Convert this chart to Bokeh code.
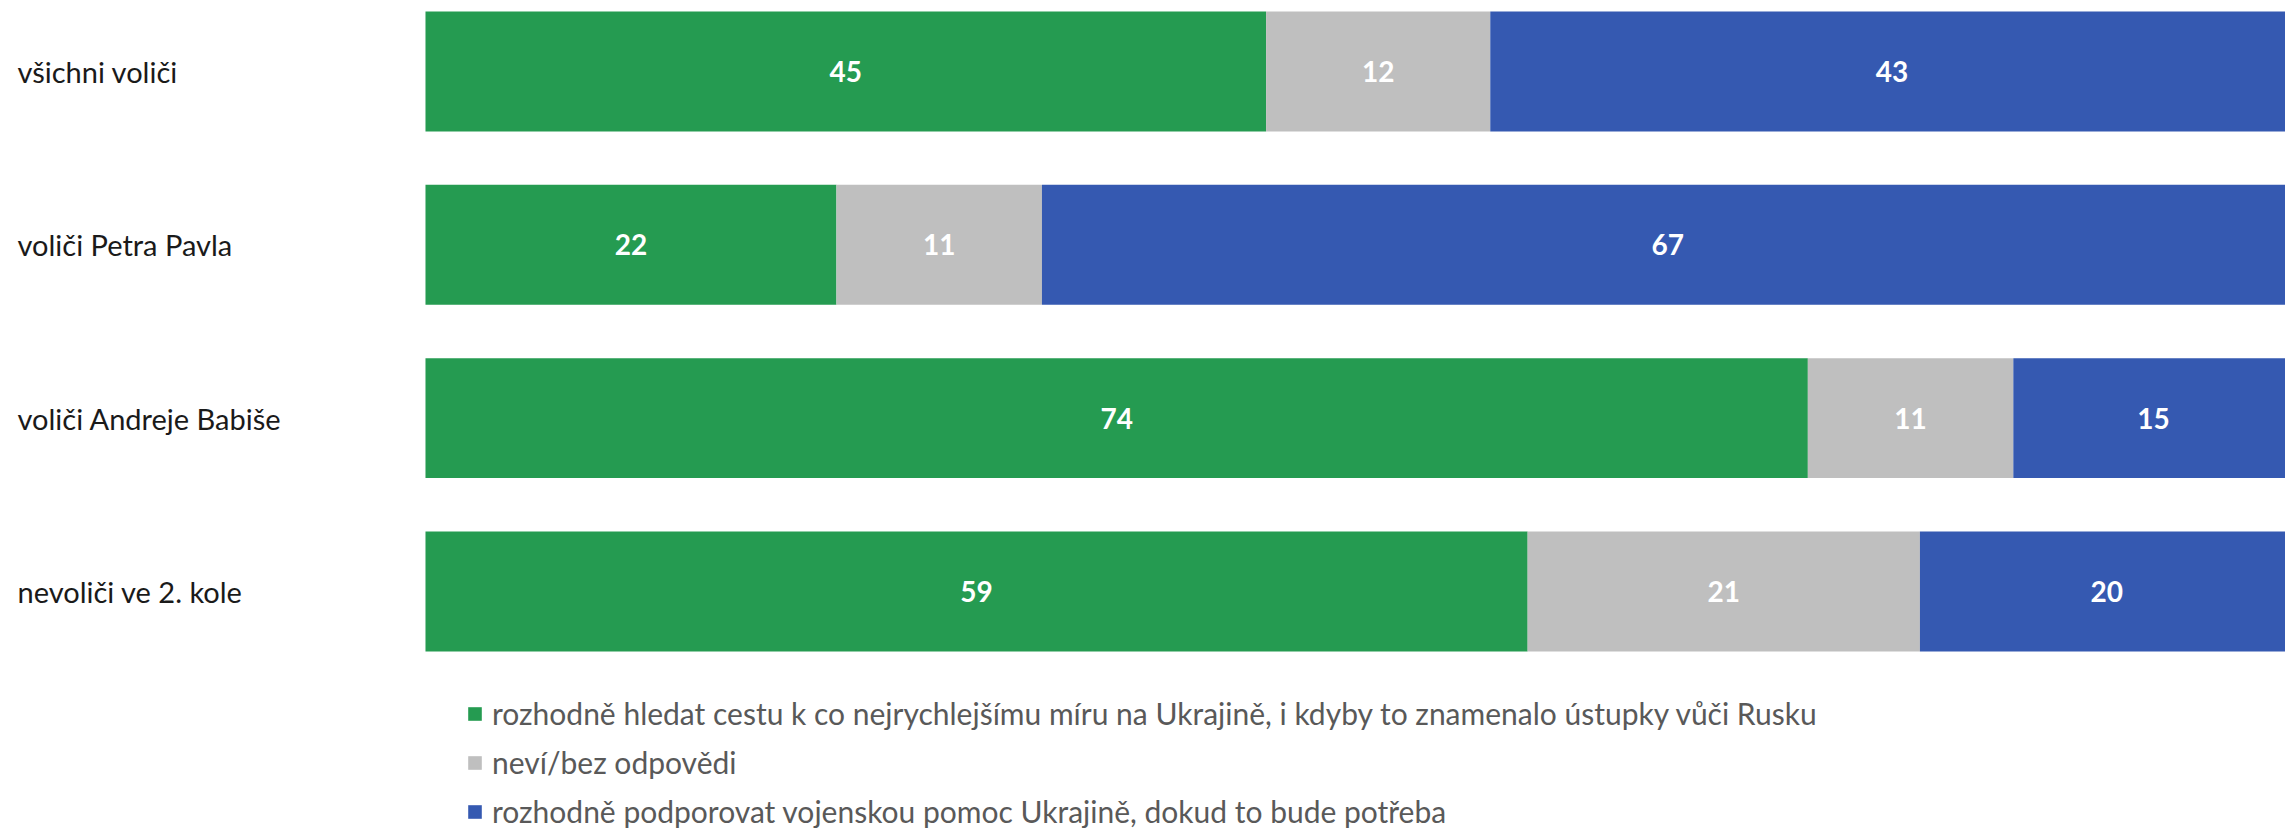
from bokeh.plotting import figure
from bokeh.models import ColumnDataSource, Range1d, Legend, LegendItem
from bokeh.core.properties import value
from bokeh.embed import file_html
from bokeh.resources import INLINE

categories = ["všichni voliči", "voliči Petra Pavla", "voliči Andreje Babiše", "nevoliči ve 2. kole"]
peace = [45, 22, 74, 59]
dont_know = [12, 11, 11, 21]
military = [43, 67, 15, 20]
series_names = [
    "rozhodně hledat cestu k co nejrychlejšímu míru na Ukrajině, i kdyby to znamenalo ústupky vůči Rusku",
    "neví/bez odpovědi",
    "rozhodně podporovat vojenskou pomoc Ukrajině, dokud to bude potřeba",
]
colors = ["#259B51", "#BFBFBF", "#3559B1"]

W, H = 2285, 832
pos = list(range(len(categories)))
src = ColumnDataSource(dict(y=pos, cat=categories, peace=peace, dk=dont_know, mil=military))

p = figure(width=W, height=H, output_backend="svg", toolbar_location=None,
           x_range=Range1d(-22.75, 99.57), y_range=Range1d(4.391, -0.4097),
           min_border=0, outline_line_color=None, background_fill_color="white",
           border_fill_color="white")
p.xaxis.visible = False
p.yaxis.visible = False
p.xgrid.visible = False
p.ygrid.visible = False

rs = p.hbar_stack(["peace", "dk", "mil"], y="y", height=0.692, color=colors, source=src, line_color=None)

# value labels
lx, ly, lt = [], [], []
for i in pos:
    start = 0
    for v in (peace[i], dont_know[i], military[i]):
        lx.append(start + v / 2)
        ly.append(i)
        lt.append(str(v))
        start += v
p.text(x=lx, y=ly, text=lt, text_align="center", text_baseline="middle",
       text_color="white", text_font=value("Lato"), text_font_style="bold", text_font_size="28px")

# category labels
p.text(x=[-21.84] * len(pos), y=pos, text=categories, text_align="left", text_baseline="middle",
       text_color="#1a1a1a", text_font=value("Lato"), text_font_size="29px")

legend = Legend(items=[LegendItem(label=n, renderers=[r]) for n, r in zip(series_names, rs)],
                location=(466, 3), orientation="vertical",
                glyph_width=17, glyph_height=17, label_height=36, spacing=13,
                padding=0, margin=0, border_line_color=None, background_fill_alpha=0,
                label_text_font="Lato", label_text_font_size="30px", label_text_color="#595959",
                label_standoff=9)
p.add_layout(legend, "center")

open("out.html", "w").write(file_html(p, INLINE))
